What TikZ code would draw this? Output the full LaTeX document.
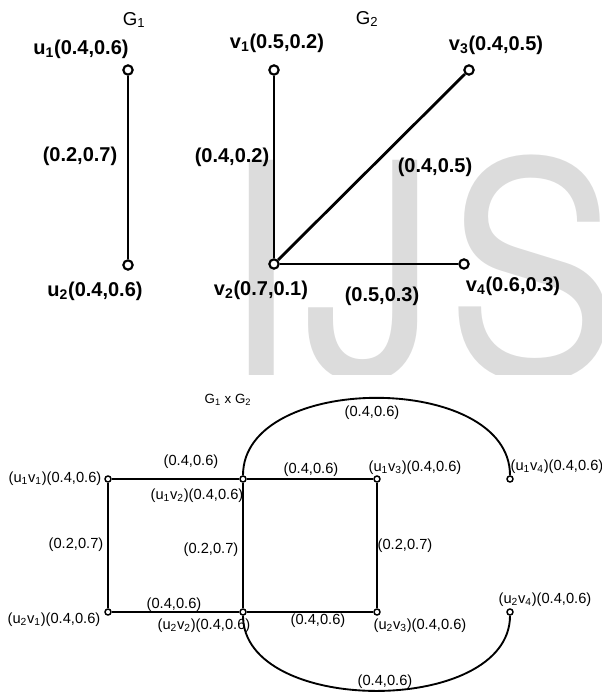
\documentclass[tikz,border=0pt]{standalone}
\usepackage{fontspec}
\setmainfont{Liberation Sans}
\newfontfamily\markfont{TeX Gyre Heros}
\definecolor{wm}{RGB}{220,220,220}
\newcommand{\sub}[1]{\textsubscript{#1}}
\begin{document}
\begin{tikzpicture}[x=0.75pt,y=-0.75pt,
  vtx/.style={circle,draw,line width=1.6pt,inner sep=0pt,minimum size=7pt,fill=white},
  pvtx/.style={circle,draw,line width=1.1pt,inner sep=0pt,minimum size=4.5pt,fill=white},
  edge/.style={line width=2.1pt},
  pedge/.style={line width=1.4pt},
  big/.style={font=\fontsize{15}{18}\selectfont\bfseries,inner sep=0pt},
  small/.style={font=\fontsize{11}{13}\selectfont,inner sep=0pt},
  ttl/.style={font=\fontsize{14}{16}\selectfont,inner sep=0pt},
  ptitle/.style={font=\fontsize{10}{12}\selectfont,inner sep=0pt},
  markletter/.style={text=wm,inner sep=0pt,anchor=base west}]
\useasboundingbox (0,0) rectangle (602,693);

% background lettering, cut off below
\begin{scope}
  \clip (0,150) rectangle (602,374);
  \node[markletter,font=\markfont\fontsize{201}{201}\selectfont,yscale=1.112] (mI) at (222.6,377) {I};
  \node[markletter,font=\markfont\fontsize{201}{201}\selectfont,yscale=1.112] (mJ) at (303.4,377) {J};
  \node[markletter,font=\markfont\fontsize{193.5}{193.5}\selectfont,yscale=1.155] (mS) at (446,377) {S};
\end{scope}

% ---------- G1 ----------
\node[ttl] (t1) at (134,20) {G\sub{1}};
\node[vtx] (u1) at (128,70) {};
\node[vtx] (u2) at (128,265) {};
\draw[edge] (u1) -- (u2);
\node[big] (lu1) at (81,49) {u\sub{1}(0.4,0.6)};
\node[big] (lu2) at (95,291) {u\sub{2}(0.4,0.6)};
\node[big] (e12) at (80,156) {(0.2,0.7)};

% ---------- G2 ----------
\node[ttl] (t2) at (367,19) {G\sub{2}};
\node[vtx] (v1) at (274,70) {};
\node[vtx] (v2) at (274,264) {};
\node[vtx] (v3) at (469,70) {};
\node[vtx] (v4) at (464,264) {};
\draw[edge] (v2) -- (v1);
\draw[edge] (v2) -- (v3);
\draw[edge] (v2) -- (v4);
\node[big] (lv1) at (277,43) {v\sub{1}(0.5,0.2)};
\node[big] (lv2) at (261,290) {v\sub{2}(0.7,0.1)};
\node[big] (lv3) at (496,45) {v\sub{3}(0.4,0.5)};
\node[big] (lv4) at (513,286) {v\sub{4}(0.6,0.3)};
\node[big] (f21) at (232,157) {(0.4,0.2)};
\node[big] (f23) at (435,167) {(0.4,0.5)};
\node[big] (f24) at (382,296) {(0.5,0.3)};

% ---------- G1 x G2 ----------
\node[ptitle] (t3) at (228,400) {G\sub{1} x G\sub{2}};
\node[pvtx] (p11) at (108,479) {};
\node[pvtx] (p12) at (243,479) {};
\node[pvtx] (p13) at (377,479) {};
\node[pvtx] (p14) at (510,479) {};
\node[pvtx] (p21) at (108,612) {};
\node[pvtx] (p22) at (243,612) {};
\node[pvtx] (p23) at (377,612) {};
\node[pvtx] (p24) at (510,612) {};

\draw[pedge] (p11) -- (p12);
\draw[pedge] (p12) -- (p13);
\draw[pedge] (p11) -- (p21);
\draw[pedge] (p12) -- (p22);
\draw[pedge] (p13) -- (p23);
\draw[pedge] (p21) -- (p22);
\draw[pedge] (p22) -- (p23);
\draw[pedge] (p12) .. controls +(0,-107) and +(0,-107) .. (p14);
\draw[pedge] (p22) .. controls +(0,104) and +(0,104) .. (p24);

\node[small] (l11) at (55,479) {(u\sub{1}v\sub{1})(0.4,0.6)};
\node[small] (l12) at (197,496) {(u\sub{1}v\sub{2})(0.4,0.6)};
\node[small] (l13) at (415,468) {(u\sub{1}v\sub{3})(0.4,0.6)};
\node[small] (l14) at (557,467) {(u\sub{1}v\sub{4})(0.4,0.6)};
\node[small] (l21) at (54,620) {(u\sub{2}v\sub{1})(0.4,0.6)};
\node[small] (l22) at (204,626) {(u\sub{2}v\sub{2})(0.4,0.6)};
\node[small] (l23) at (420,626) {(u\sub{2}v\sub{3})(0.4,0.6)};
\node[small] (l24) at (545,600) {(u\sub{2}v\sub{4})(0.4,0.6)};

\node[small] (g1) at (191,462) {(0.4,0.6)};
\node[small] (g2) at (311,470) {(0.4,0.6)};
\node[small] (g3) at (372,413) {(0.4,0.6)};
\node[small] (g4) at (76,545) {(0.2,0.7)};
\node[small] (g5) at (211,550) {(0.2,0.7)};
\node[small] (g6) at (405,546) {(0.2,0.7)};
\node[small] (g7) at (174,605) {(0.4,0.6)};
\node[small] (g8) at (318,621) {(0.4,0.6)};
\node[small] (g9) at (385,682) {(0.4,0.6)};
\end{tikzpicture}
\end{document}
